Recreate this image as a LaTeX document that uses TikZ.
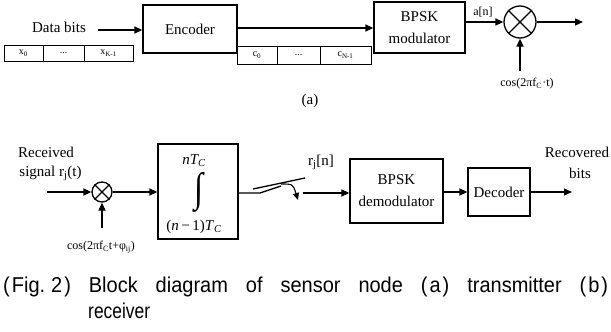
\documentclass[tikz,border=0pt]{standalone}
\usepackage{fontspec}
\usepackage{graphicx}
\setmainfont{Liberation Serif}
\newfontfamily\capfont[FakeStretch=0.81]{Liberation Sans}
\newfontfamily\capfontw[FakeStretch=0.93]{Liberation Sans}
\usetikzlibrary{arrows.meta}
\tikzset{
  arr/.style={line width=1.3pt,-{Triangle[length=8pt,width=7pt]}},
  ln/.style={line width=1.3pt},
  blk/.style={draw,line width=1.3pt,inner sep=0pt,align=center,font=\fontsize{15}{22}\selectfont},
  cell/.style={draw,line width=0.8pt,inner sep=0pt,font=\fontsize{10}{12}\selectfont},
  lbl/.style={inner sep=0pt,font=\fontsize{15}{18}\selectfont},
  sml/.style={inner sep=0pt,font=\fontsize{12}{14}\selectfont},
  mix/.style={draw,circle,line width=1.3pt,inner sep=0pt},
}
\begin{document}
\begin{tikzpicture}[x=1pt,y=-1pt]
\useasboundingbox (0,0) rectangle (611,332);
% ---------- (a) transmitter
\node[lbl] (db) at (59,27) {Data bits};
\coordinate (dbs) at (98,30);
\node[blk,minimum width=94pt,minimum height=48pt] (enc) at (190,29) {Encoder};
\node[blk,minimum width=91pt,minimum height=51pt] (mod) at (419.5,27.5) {BPSK\\modulator};
\node[mix,minimum size=32pt] (mx) at (520,22) {};
\draw[ln] (mx.north west) -- (mx.south east) (mx.north east) -- (mx.south west);
\coordinate (out1) at (583,22);
\coordinate (cosa) at (520,71);
\node[sml] (an) at (483,12) {a[n]};
\node[sml] (cosl) at (527,84) {cos(2πf\textsubscript{C}·t)};
\node[lbl] (la) at (310,101) {(a)};
% bit cells
\node[cell,minimum width=39pt,minimum height=16pt] (x0) at (23.5,53) {x\textsubscript{0}};
\node[cell,minimum width=41pt,minimum height=16pt] (xd) at (63.5,53) {...};
\node[cell,minimum width=49pt,minimum height=16pt] (xk) at (108.5,53) {x\textsubscript{K-1}};
\node[cell,minimum width=40pt,minimum height=18pt] (c0) at (257,55) {c\textsubscript{0}};
\node[cell,minimum width=43pt,minimum height=18pt] (cd) at (298.5,55) {...};
\node[cell,minimum width=51pt,minimum height=18pt] (cn) at (345.5,55) {c\textsubscript{N-1}};
\draw[arr] (dbs) -- (dbs -| enc.west);
\draw[arr] (enc.east |- 0,28) -- (mod.west |- 0,28);
\draw[arr] (mod.east |- mx.west) -- (mx.west);
\draw[arr] (mx.east) -- (out1);
\draw[arr] (cosa) -- (mx.south);
% ---------- (b) receiver
\node[lbl] (rec) at (46,152) {Received};
\node[lbl] (sig) at (50.5,173) {signal r\textsubscript{j}(t)};
\coordinate (ins) at (47,192);
\node[mix,minimum size=20pt] (mx2) at (102,192) {};
\draw[ln] (mx2.north west) -- (mx2.south east) (mx2.north east) -- (mx2.south west);
\coordinate (cosb) at (102,228);
\node[sml] (cosbl) at (101,247) {cos(2πf\textsubscript{C}t+φ\textsubscript{ij})};
\node[blk,minimum width=80pt,minimum height=95pt] (int) at (198,191.5) {};
\node[inner sep=0pt,font=\fontsize{15}{18}\selectfont\itshape] (up) at (194,161) {nT\textsubscript{C}};
\node[inner sep=0pt] (is) at (199,192.5) {\resizebox*{9pt}{40pt}{∫}};
\node[inner sep=0pt,font=\fontsize{15}{18}\selectfont] (lo) at (194,227) {(\textit{n}\,−\,1)\textit{T}\textsubscript{\textit{C}}};
\coordinate (s1) at (260,193);
\coordinate (s2) at (281,186);
\coordinate (b1) at (253,189);
\coordinate (b2) at (305,178);
\coordinate (a1) at (281,184);
\coordinate (ac) at (293,184);
\coordinate (a2) at (298,200);
\coordinate (so) at (303,193);
\node[lbl] (rn) at (321,162) {r\textsubscript{j}[n]};
\node[blk,minimum width=93pt,minimum height=64pt] (dem) at (396.5,191) {BPSK\\demodulator};
\node[blk,minimum width=62pt,minimum height=48pt] (dec) at (499,192) {Decoder};
\coordinate (out2) at (572,192);
\node[lbl] (rv) at (577,152) {Recovered};
\node[lbl] (bt) at (580,173) {bits};
\draw[arr] (ins) -- (mx2.west);
\draw[arr] (cosb) -- (mx2.south);
\draw[arr] (mx2.east) -- (mx2.east -| int.west);
\draw[ln] (int.east |- s1) -- (s1) -- (s2);
\draw[ln] (b1) -- (b2);
\draw[line width=1.1pt,-{Triangle[length=7pt,width=6pt]}] (a1) .. controls (ac) .. (a2);
\draw[arr] (so) -- (so -| dem.west);
\draw[arr] (dem.east |- dec.west) -- (dec.west);
\draw[arr] (dec.east) -- (out2);
% ---------- caption
\node[anchor=base west,inner sep=0pt,font=\capfontw\fontsize{21.5}{26}\selectfont] (cap1) at (3,292)
  {\makebox[605pt][s]{(\kern2pt Fig.\kern6pt 2\kern2pt) Block diagram of sensor node (\kern2pt a\kern2pt) transmitter (\kern2pt b\kern2pt)}};
\node[anchor=base west,inner sep=0pt,font=\capfont\fontsize{21.5}{26}\selectfont] (cap2) at (88,318) {receiver};
\end{tikzpicture}
\end{document}
